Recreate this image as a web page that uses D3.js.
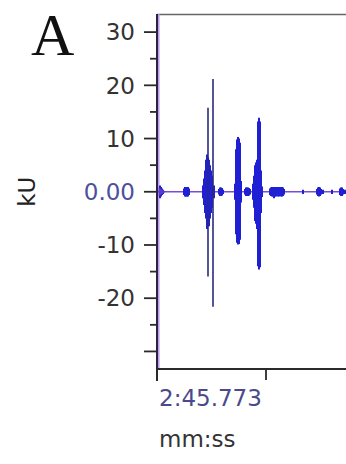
<!DOCTYPE html>
<html>
<head>
<meta charset="utf-8">
<script src="https://cdn.jsdelivr.net/npm/d3@7/dist/d3.min.js"></script>
<style>
  html, body { margin: 0; padding: 0; background: #fff; }
  svg { display: block; }
</style>
</head>
<body>
<svg id="chart" width="346" height="464"></svg>
<script>
// Waveform trace, time in ms after 2:45.773, amplitude in kU.
// Envelope samples (1 ms apart): upper and lower excursion of the trace.
const envT  = [3, 4, 5, 6, 27, 28, 29, 30, 31, 32, 46, 47, 48, 49, 50, 51, 52, 53, 54, 55, 57,
               62, 63, 64, 65, 66, 78, 79, 80, 81, 82, 83, 84, 88, 89, 90, 91, 92, 93,
               96, 97, 98, 99, 100, 101, 102, 103, 104, 105,
               113, 114, 115, 116, 117, 118, 119, 120, 121, 122, 123, 124, 125, 126, 127,
               146, 160, 161, 162, 163, 164, 166, 175, 183, 184, 185, 186, 188];
const envHi = [1.2, 0.9, 0.6, 0.4, 0.6, 0.9, 0.9, 0.9, 0.9, 0.6, 1.2, 2.5, 4.0, 6.0, 7.0, 6.5, 6.0, 5.0, 4.0, 3.0, 1.2,
               0.5, 0.8, 0.8, 0.7, 0.4, 1.5, 8.0, 9.8, 10.3, 10.0, 9.2, 2.0, 0.5, 0.8, 0.8, 0.8, 0.7, 0.5,
               1.5, 3.0, 5.0, 5.5, 6.0, 13.2, 13.9, 13.2, 4.0, 1.0,
               0.6, 0.8, 0.9, 0.9, 0.8, 0.9, 0.9, 0.8, 0.9, 0.9, 0.8, 0.9, 0.9, 0.8, 0.5,
               0.4, 0.5, 0.8, 0.9, 0.8, 0.5, 0.4, 0.4, 0.6, 0.8, 0.8, 0.5, 0.4];
const envLo = [-1.2, -0.9, -0.6, -0.4, -0.6, -0.9, -0.9, -0.9, -0.9, -0.6, -1.2, -2.5, -4.0, -5.0, -7.0, -6.5, -6.5, -5.0, -4.0, -3.0, -1.2,
               -0.5, -0.8, -0.8, -0.7, -0.4, -1.5, -8.0, -9.6, -9.9, -9.8, -9.0, -2.0, -0.5, -0.8, -0.8, -0.8, -0.7, -0.5,
               -1.5, -3.0, -5.5, -6.0, -7.0, -14.0, -14.6, -14.2, -4.0, -1.0,
               -0.6, -0.8, -0.9, -0.9, -1.2, -0.9, -0.9, -0.8, -0.9, -0.9, -0.8, -0.9, -0.9, -0.8, -0.5,
               -0.4, -0.5, -0.8, -0.9, -0.8, -0.5, -0.4, -0.4, -0.6, -0.8, -0.8, -0.5, -0.4];

// Single-sample peaks that stand out above the envelope.
const peakT  = [51, 56];
const peakHi = [15.8, 21.2];
const peakLo = [-15.9, -21.6];

// Axes
const yMajorTicks = [-30, -20, -10, 0, 10, 20, 30];
const yMajorLabels = ["", "-20", "-10", "0.00", "10", "20", "30"];
const yMinorTicks = [-25, -15, -5, 5, 15, 25];
const xTicks = [0, 109];
const xTickLabels = ["2:45.773", ""];
const timeDomain = [0, 190];
const ampDomain = [-33.3, 33.4];

const svg = d3.select("#chart");
const plotLeft = 157, plotRight = 347, plotTop = 14, plotBottom = 369;

const x = d3.scaleLinear().domain(timeDomain).range([plotLeft, plotRight]);
const y = d3.scaleLinear().domain(ampDomain).range([plotBottom, plotTop]);

const font = "'DejaVu Sans', Verdana, sans-serif";
const fontSize = 23;

// Panel letter
svg.append("text")
  .attr("x", 31).attr("y", 55)
  .attr("font-family", "'Liberation Serif', 'Times New Roman', serif")
  .attr("font-size", 60)
  .attr("fill", "#111")
  .text("A");

// Y axis title
svg.append("text")
  .attr("transform", `translate(35,${y(0)}) rotate(-90)`)
  .attr("text-anchor", "middle")
  .attr("font-family", font)
  .attr("font-size", fontSize)
  .attr("fill", "#222")
  .text("kU");

// Frame: top border
svg.append("line")
  .attr("x1", plotLeft).attr("x2", 346)
  .attr("y1", plotTop + 0.5).attr("y2", plotTop + 0.5)
  .attr("stroke", "#666").attr("stroke-width", 1.5);

// Faint violet strip along the left of the plot
svg.append("line")
  .attr("x1", plotLeft + 1.8).attr("x2", plotLeft + 1.8)
  .attr("y1", plotTop).attr("y2", plotBottom)
  .attr("stroke", "#b79ae8").attr("stroke-width", 1.5);

// Zero baseline of the trace
svg.append("line")
  .attr("x1", plotLeft).attr("x2", 346)
  .attr("y1", y(0)).attr("y2", y(0))
  .attr("stroke", "#7a4ad8").attr("stroke-width", 1.6);

// Envelope bars
const env = envT.map((t, i) => ({ t, hi: envHi[i], lo: envLo[i] }));
svg.append("g").selectAll("line").data(env).join("line")
  .attr("x1", d => x(d.t)).attr("x2", d => x(d.t))
  .attr("y1", d => y(d.hi)).attr("y2", d => y(d.lo))
  .attr("stroke", "#1f1fd4").attr("stroke-width", 2);

// Sharp peaks
const peaks = peakT.map((t, i) => ({ t, hi: peakHi[i], lo: peakLo[i] }));
svg.append("g").selectAll("line").data(peaks).join("line")
  .attr("x1", d => x(d.t)).attr("x2", d => x(d.t))
  .attr("y1", d => y(d.hi)).attr("y2", d => y(d.lo))
  .attr("stroke", "#2a2a80").attr("stroke-width", 1.6);

// Start marker on the baseline
svg.append("path")
  .attr("d", d3.symbol(d3.symbolTriangle, 30)())
  .attr("transform", `translate(${x(4)},${y(0)}) rotate(90)`)
  .attr("fill", "#5a3ad0");

// Y axis
const yAxis = svg.append("g").attr("transform", `translate(${plotLeft},0)`);
yAxis.append("line")
  .attr("x1", 0).attr("x2", 0).attr("y1", plotTop).attr("y2", plotBottom + 12)
  .attr("stroke", "#2a2240").attr("stroke-width", 2);
yAxis.selectAll(".maj").data(yMajorTicks).join("line")
  .attr("class", "maj")
  .attr("x1", -13).attr("x2", 0)
  .attr("y1", d => y(d)).attr("y2", d => y(d))
  .attr("stroke", "#2a2a2a").attr("stroke-width", 1.8);
yAxis.selectAll(".min").data(yMinorTicks).join("line")
  .attr("class", "min")
  .attr("x1", -7).attr("x2", 0)
  .attr("y1", d => y(d)).attr("y2", d => y(d))
  .attr("stroke", "#2a2a2a").attr("stroke-width", 1.8);
yAxis.selectAll("text").data(yMajorTicks).join("text")
  .attr("x", -22)
  .attr("y", d => y(d))
  .attr("dy", "0.36em")
  .attr("text-anchor", "end")
  .attr("font-family", font)
  .attr("font-size", fontSize)
  .attr("fill", d => d === 0 ? "#4f4f9c" : "#333")
  .text((d, i) => yMajorLabels[i]);

// X axis
const xAxis = svg.append("g").attr("transform", `translate(0,${plotBottom})`);
xAxis.append("line")
  .attr("x1", plotLeft).attr("x2", 346).attr("y1", 0).attr("y2", 0)
  .attr("stroke", "#2a2a2a").attr("stroke-width", 1.8);
xAxis.selectAll(".tick").data(xTicks).join("line")
  .attr("class", "tick")
  .attr("x1", d => x(d)).attr("x2", d => x(d))
  .attr("y1", 0).attr("y2", 11)
  .attr("stroke", "#2a2a2a").attr("stroke-width", 1.8);
xAxis.selectAll("text").data(xTicks).join("text")
  .attr("x", d => x(d) + 2)
  .attr("y", 37)
  .attr("font-family", font)
  .attr("font-size", fontSize)
  .attr("fill", "#4a4a8c")
  .text((d, i) => xTickLabels[i]);

// X axis title
svg.append("text")
  .attr("x", plotLeft + 2).attr("y", 447)
  .attr("font-family", font)
  .attr("font-size", fontSize)
  .attr("fill", "#333")
  .text("mm:ss");
</script>
</body>
</html>
